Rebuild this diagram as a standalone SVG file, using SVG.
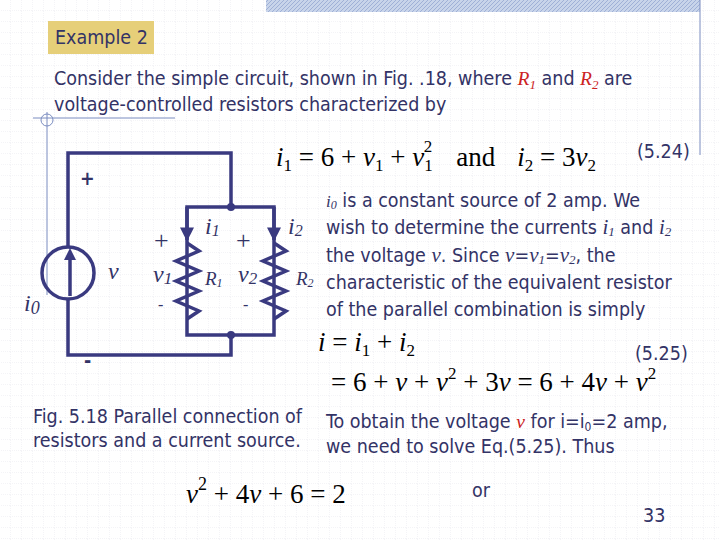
<svg xmlns="http://www.w3.org/2000/svg" width="720" height="540" viewBox="0 0 720 540">
<defs>
<pattern id="grid" width="11" height="11" patternUnits="userSpaceOnUse"><path d="M11 0V11H0" fill="none" stroke="#dcdce4" stroke-width="0.6" stroke-dasharray="1,1"/></pattern>
<pattern id="hatch" width="4" height="4" patternUnits="userSpaceOnUse"><rect width="4" height="4" fill="#c8d4ea"/><path d="M0 4L4 0" stroke="#9fb0d6" stroke-width="1"/></pattern>
<marker id="ar" viewBox="0 0 10 10" refX="9" refY="5" markerWidth="4" markerHeight="4" orient="auto"><path d="M0 0L10 5L0 10z" fill="#3a3a80"/></marker>
</defs>
<style>
.t{font-family:"DejaVu Sans Condensed","DejaVu Sans",sans-serif;font-size:19.5px;fill:#333366}
.m{font-family:"Liberation Serif",serif;font-size:27px;fill:#000}
.mi{font-family:"Liberation Serif",serif;font-style:italic;fill:#333366}
.w{fill:none;stroke:#3a3a80;stroke-width:3.5}
.d{stroke:#7a8cc0;stroke-width:1;fill:none}
</style>
<rect width="720" height="540" fill="#fff"/>
<rect width="720" height="540" fill="url(#grid)"/>
<rect x="266" y="0" width="434" height="12" fill="url(#hatch)"/>
<g id="decor" class="d">
<line x1="700" y1="0" x2="700" y2="155"/>
<line x1="47" y1="112" x2="47" y2="295"/>
<line x1="33" y1="118" x2="175" y2="118"/>
<circle cx="47" cy="120" r="6"/>
</g>
<g id="title"><rect x="48" y="21" width="106" height="33" fill="#e6cf79"/><text class="t" x="55" y="44" font-size="18">Example 2</text></g>
<text class="t" x="54" y="85">Consider the simple circuit, shown in Fig. .18, where <tspan fill="#cc2222" font-style="italic" font-family="Liberation Serif">R<tspan font-size="13" dy="4">1</tspan></tspan><tspan dy="-4"> and </tspan><tspan fill="#cc2222" font-style="italic" font-family="Liberation Serif">R<tspan font-size="13" dy="4">2</tspan></tspan><tspan dy="-4"> are</tspan></text>
<text class="t" x="54" y="111">voltage-controlled resistors characterized by</text>
<text class="m" x="276" y="166"><tspan font-style="italic">i</tspan><tspan font-size="17" dy="5">1</tspan><tspan dy="-5"> = 6 + </tspan><tspan font-style="italic">v</tspan><tspan font-size="17" dy="5">1</tspan><tspan dy="-5"> + </tspan><tspan font-style="italic">v</tspan><tspan font-size="17" dy="5">1</tspan><tspan font-size="17" dx="-9" dy="-19">2</tspan><tspan dx="24" dy="14">and</tspan><tspan dx="22" font-style="italic">i</tspan><tspan font-size="17" dy="5">2</tspan><tspan dy="-5"> = 3</tspan><tspan font-style="italic">v</tspan><tspan font-size="17" dy="5">2</tspan></text>
<text class="t" x="637" y="158">(5.24)</text>
<g id="circuit">
<path class="w" d="M68 247V153H231V207M187 207H274V335H187Z M231 335V355H68V299"/>
<line class="w" x1="187" y1="207" x2="187" y2="240" marker-end="url(#ar)" stroke-width="3"/>
<line class="w" x1="274" y1="207" x2="274" y2="240" marker-end="url(#ar)" stroke-width="3"/>
<path class="w" d="M187 243L199 251L176 261L199 271L176 281L199 291L176 301L199 311L187 319"/>
<path class="w" d="M274 243L286 251L263 261L286 271L263 281L286 291L263 301L286 311L274 319"/>
<circle cx="231" cy="207" r="4" fill="#3a3a80"/>
<circle cx="231" cy="335" r="4" fill="#3a3a80"/>
<circle class="w" cx="68" cy="273" r="26" stroke-width="3"/>
<line class="w" x1="70" y1="296" x2="70" y2="254" stroke-width="3"/>
<path d="M70 248L64 260H76Z" fill="#3a3a80"/>
<text class="t" x="80" y="185" font-size="22" font-weight="bold">+</text>
<text class="t" x="84" y="367" font-size="22" font-weight="bold">-</text>
</g>
<g id="labels" class="mi" font-size="24">
<text x="108" y="279">v</text>
<text x="24" y="311">i<tspan font-size="18" dy="3">0</tspan></text>
<text x="154" y="249" font-style="normal" font-size="26">+</text>
<text x="153" y="282">v<tspan font-size="17" dy="2">1</tspan></text>
<text x="158" y="310" font-style="normal" font-size="16">-</text>
<text x="205" y="234">i<tspan font-size="16" dy="2">1</tspan></text>
<text x="205" y="285" font-size="19">R<tspan font-size="12" dy="2">1</tspan></text>
<text x="236" y="249" font-style="normal" font-size="26">+</text>
<text x="238" y="282">v<tspan font-size="17" dy="2">2</tspan></text>
<text x="243" y="310" font-style="normal" font-size="16">-</text>
<text x="288" y="234">i<tspan font-size="16" dy="2">2</tspan></text>
<text x="296" y="285" font-size="19">R<tspan font-size="12" dy="2">2</tspan></text>
</g>
<g class="t">
<text x="326" y="207"><tspan class="mi" font-size="17">i<tspan font-size="12" dy="2">0</tspan></tspan><tspan dy="-2"> is a constant source of 2 amp. We</tspan></text>
<text x="326" y="234">wish to determine the currents <tspan class="mi" font-size="21">i<tspan font-size="13" dy="2">1</tspan></tspan><tspan dy="-2"> and  </tspan><tspan class="mi" font-size="21">i<tspan font-size="13" dy="2">2</tspan></tspan></text>
<text x="326" y="262">the voltage <tspan class="mi" font-size="21">v</tspan>. Since <tspan class="mi" font-size="21">v</tspan>=<tspan class="mi" font-size="21">v<tspan font-size="13" dy="2">1</tspan></tspan><tspan dy="-2">=</tspan><tspan class="mi" font-size="21">v<tspan font-size="13" dy="2">2</tspan></tspan><tspan dy="-2">, the</tspan></text>
<text x="326" y="289">characteristic of the equivalent resistor</text>
<text x="326" y="316">of the parallel combination is simply</text>
</g>
<text class="m" x="318" y="351"><tspan font-style="italic">i</tspan> = <tspan font-style="italic">i</tspan><tspan font-size="17" dy="5">1</tspan><tspan dy="-5"> + </tspan><tspan font-style="italic">i</tspan><tspan font-size="17" dy="5">2</tspan></text>
<text class="t" x="635" y="360">(5.25)</text>
<text class="m" x="331" y="391">= 6 + <tspan font-style="italic">v</tspan> + <tspan font-style="italic">v</tspan><tspan font-size="17" dy="-12">2</tspan><tspan dy="12"> + 3</tspan><tspan font-style="italic">v</tspan> = 6 + 4<tspan font-style="italic">v</tspan> + <tspan font-style="italic">v</tspan><tspan font-size="17" dy="-12">2</tspan></text>
<text class="t" x="33" y="423">Fig. 5.18 Parallel connection of</text>
<text class="t" x="33" y="447">resistors and a current source.</text>
<text class="t" x="326" y="428">To obtain the voltage <tspan fill="#cc2222" font-style="italic" font-family="Liberation Serif">v</tspan> for i=i<tspan font-size="12" dy="3">0</tspan><tspan dy="-3">=2 amp,</tspan></text>
<text class="t" x="326" y="453">we need to solve Eq.(5.25). Thus</text>
<text class="m" x="186" y="503" font-size="30"><tspan font-style="italic">v</tspan><tspan font-size="18" dy="-13">2</tspan><tspan dy="13"> + 4</tspan><tspan font-style="italic">v</tspan> + 6 = 2</text>
<text class="t" x="472" y="497">or</text>
<text class="t" x="643" y="522" font-size="13">33</text>
</svg>
